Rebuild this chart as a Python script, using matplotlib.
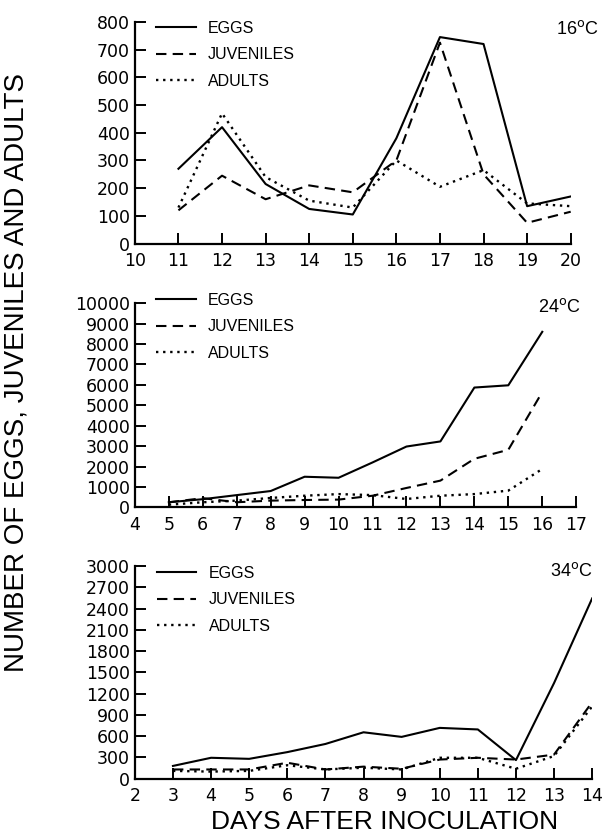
import matplotlib.pyplot as plt

plt.rcParams['font.family'] = ['Liberation Sans', 'DejaVu Sans']

# 16 C
days16 = [11, 12, 13, 14, 15, 16, 17, 18, 19, 20]
eggs16 = [270, 420, 215, 125, 105, 380, 745, 720, 135, 170]
juv16 = [120, 245, 160, 210, 185, 300, 725, 250, 75, 115]
adu16 = [130, 470, 240, 155, 130, 300, 205, 265, 145, 135]

# 24 C
days24 = [5, 6, 7, 8, 9, 10, 11, 12, 13, 14, 15, 16]
eggs24 = [250, 400, 600, 800, 1500, 1450, 2200, 2980, 3230, 5870, 5980, 8600]
juv24 = [250, 450, 250, 330, 360, 380, 570, 950, 1310, 2380, 2820, 5650]
adu24 = [130, 250, 330, 460, 570, 650, 600, 410, 570, 650, 820, 1880]

# 34 C
days34 = [3, 4, 5, 6, 7, 8, 9, 10, 11, 12, 13, 14]
eggs34 = [180, 295, 280, 375, 490, 655, 590, 717, 695, 262, 1350, 2545]
juv34 = [130, 130, 130, 225, 130, 170, 140, 270, 295, 270, 340, 1080]
adu34 = [110, 100, 110, 190, 130, 155, 130, 295, 295, 140, 320, 1020]

panels = [
    (days16, eggs16, juv16, adu16, (10, 20), range(10, 21), (0, 800), range(0, 801, 100), '16',
     [0.220, 0.710, 0.711, 0.264], 1.04, (0.977, 0.976)),
    (days24, eggs24, juv24, adu24, (4, 17), range(4, 18), (0, 10000), range(0, 10001, 1000), '24',
     [0.220, 0.396, 0.720, 0.243], 1.09, (0.947, 0.645)),
    (days34, eggs34, juv34, adu34, (2, 14), range(2, 15), (0, 3000), range(0, 3001, 300), '34',
     [0.220, 0.073, 0.746, 0.253], 1.04, (0.966, 0.331)),
]

fig = plt.figure(figsize=(6.13, 8.4), dpi=100)

for days, eggs, juv, adu, xl, xt, yl, yt, temp, pos, legy, tpos in panels:
    ax = fig.add_axes(pos)
    ax.plot(days, eggs, '-', color='black', lw=1.5, label='EGGS')
    ax.plot(days, juv, '--', color='black', lw=1.5, dashes=(5, 3), label='JUVENILES')
    ax.plot(days, adu, ':', color='black', lw=1.7, dashes=(1, 2), label='ADULTS')
    ax.set_xlim(xl)
    ax.set_ylim(yl)
    ax.set_xticks(list(xt))
    ax.set_yticks(list(yt))
    ax.spines['top'].set_visible(False)
    ax.spines['right'].set_visible(False)
    ax.spines['left'].set_linewidth(1.6)
    ax.spines['bottom'].set_linewidth(1.6)
    ax.tick_params(direction='in', length=8, width=1.4, labelsize=12.5)
    ax.tick_params(axis='x', pad=6)
    for lab in ax.get_xticklabels() + ax.get_yticklabels():
        lab.set_family('DejaVu Sans')
    ax.legend(loc='upper left', frameon=False, fontsize=11.5, handlelength=2.5,
              labelspacing=0.72, handletextpad=0.75, borderaxespad=0.1,
              bbox_to_anchor=(0.03, legy))
    fig.text(tpos[0], tpos[1], temp + r'$^{\mathrm{o}}$C', ha='right', va='top', fontsize=13)

fig.text(0.027, 0.557, 'NUMBER OF EGGS, JUVENILES AND ADULTS', rotation=90,
         ha='center', va='center', fontsize=20)
fig.text(0.628, 0.021, 'DAYS AFTER INOCULATION', ha='center', va='center', fontsize=19)

fig.savefig('out.png', dpi=100)
